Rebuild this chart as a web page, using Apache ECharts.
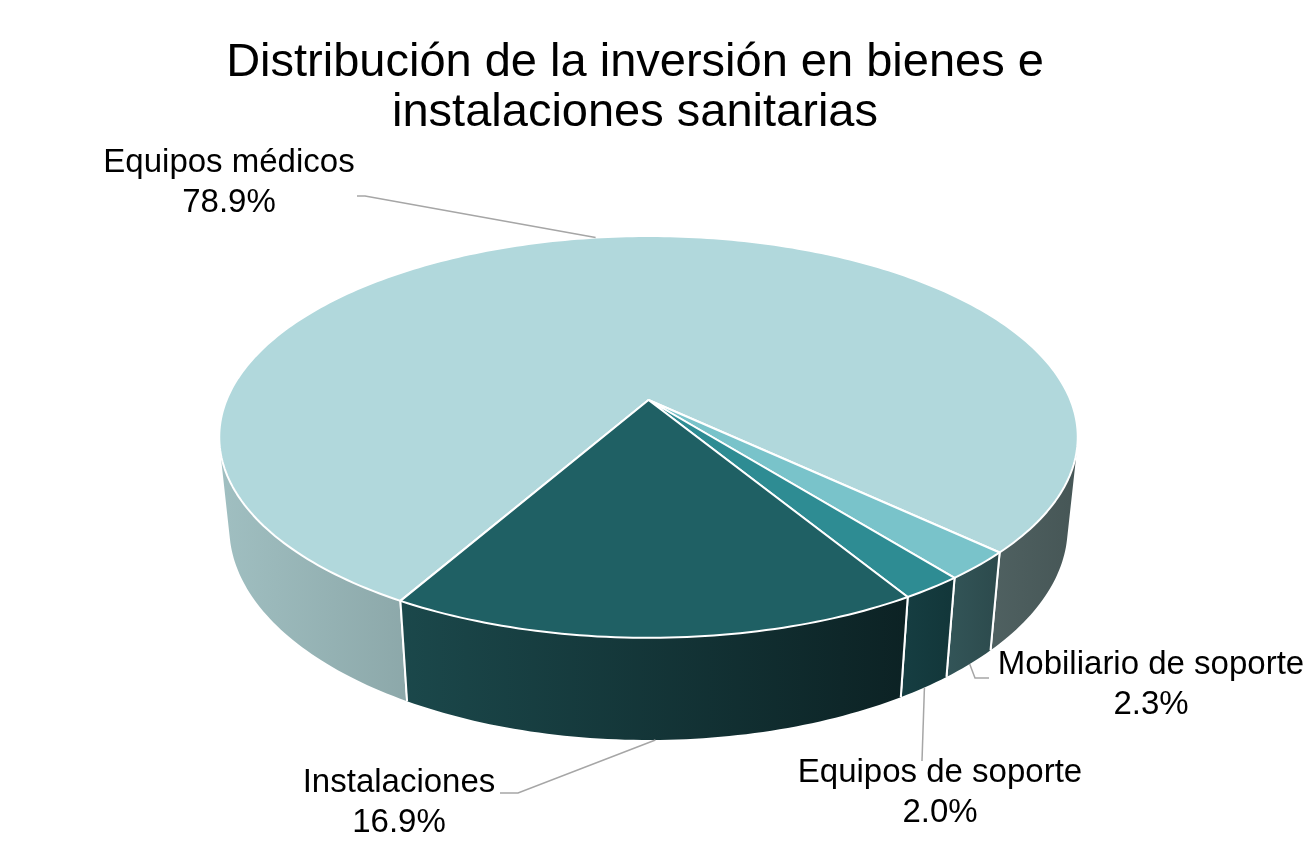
<!DOCTYPE html>
<html>
<head>
<meta charset="utf-8">
<script src="https://cdn.jsdelivr.net/npm/echarts@6/dist/echarts.min.js"></script>
<style>
  html, body { margin: 0; padding: 0; background: #fff; }
  #main { width: 1314px; height: 848px; }
</style>
</head>
<body>
<div id="main"></div>
<script>
// data
const categories = ['Equipos médicos', 'Mobiliario de soporte', 'Equipos de soporte', 'Instalaciones'];
const values = [78.9, 2.3, 2.0, 16.9];

// styles
const topColors = ['#b1d8dc', '#79c3ca', '#2e8c93', '#1f6064'];
const wallColors = [['#a0bfc1', '#465656'], ['#335558', '#2c4a4c'], ['#163e42', '#123639'], ['#1b484b', '#0c2224']];
const labelFont = 'Liberation Sans, Arial, sans-serif';
// label centre and leader elbow points (label layout)
const labelLayout = [
  {x: 229, y: 183, anchor: 'top', path: [[365, 196], [357, 196]]},
  {x: 1151, y: 685, anchor: 'bottom', path: [[975, 678], [989, 678]]},
  {x: 940, y: 793, anchor: 'bottom', path: [[922, 761]]},
  {x: 399, y: 803, anchor: 'bottom', path: [[518, 793], [500, 793]]}
];

// simple perspective camera for the 3D pie
const cx = 648.5, cy = 400, F = 2038, D = 4.83, sinP = 0.46, cosP = 0.888, H = 0.2436;
const startAngle = 119.6;
const visMin = 13.5, visMax = 166.5;

function proj(deg, z) {
  const t = deg * Math.PI / 180;
  const X = Math.cos(t), Y = Math.sin(t);
  const depth = D - Y * cosP - z * sinP;
  return [cx + F * X / depth, cy + F * (Y * sinP - z * cosP) / depth];
}

const total = values.reduce((a, b) => a + b, 0);
const slices = [];
let acc = startAngle;
values.forEach((v) => {
  const span = v / total * 360;
  slices.push([acc, acc + span]);
  acc += span;
});

function arc(a0, a1, z) {
  const pts = [];
  const n = Math.max(2, Math.ceil(Math.abs(a1 - a0) / 1));
  for (let i = 0; i <= n; i++) {
    pts.push(proj(a0 + (a1 - a0) * i / n, z));
  }
  return pts;
}

function visibleParts(a0, a1) {
  const parts = [];
  for (let k = -1; k <= 2; k++) {
    const lo = Math.max(a0, visMin + 360 * k);
    const hi = Math.min(a1, visMax + 360 * k);
    if (hi > lo) parts.push([lo, hi]);
  }
  return parts;
}

function inVisible(a) {
  const m = ((a % 360) + 360) % 360;
  return m > visMin && m < visMax;
}

function renderItem(params, api) {
  const i = params.dataIndex;
  const [a0, a1] = slices[i];
  const children = [];

  // outer wall
  visibleParts(a0, a1).forEach(([lo, hi]) => {
    const topPts = arc(lo, hi, 0);
    const botPts = arc(lo, hi, -H).reverse();
    const pts = topPts.concat(botPts);
    let fill;
    if (i === 0) {
      fill = {type: 'linear', x: 219, y: 0, x2: 1078, y2: 0, global: true,
        colorStops: [{offset: 0, color: wallColors[i][0]}, {offset: 1, color: wallColors[i][1]}]};
    } else {
      fill = {type: 'linear', x: 0, y: 0, x2: 1, y2: 0,
        colorStops: [{offset: 0, color: wallColors[i][0]}, {offset: 1, color: wallColors[i][1]}]};
    }
    children.push({type: 'polygon', shape: {points: pts}, style: {fill: fill, stroke: null}});
  });

  // top face
  const top = [[cx, cy]].concat(arc(a0, a1, 0));
  children.push({type: 'polygon', shape: {points: top},
    style: {fill: topColors[i], stroke: '#ffffff', lineWidth: 2, lineJoin: 'round'}});

  // white edges on the wall at slice boundaries
  [a0, a1].forEach((a) => {
    if (inVisible(a)) {
      const p = proj(a, 0), q = proj(a, -H);
      children.push({type: 'line', shape: {x1: p[0], y1: p[1], x2: q[0], y2: q[1]},
        style: {stroke: '#ffffff', lineWidth: 2}});
    }
  });

  // leader line + label
  const lay = labelLayout[i];
  const mid = (a0 + a1) / 2;
  const start = proj(mid, lay.anchor === 'top' ? 0 : -H);
  children.push({type: 'polyline', shape: {points: [start].concat(lay.path)},
    style: {stroke: '#a6a6a6', lineWidth: 1.5, fill: null}});
  children.push({type: 'text', x: lay.x, y: lay.y,
    style: {text: categories[i] + '\n' + api.value(0).toFixed(1) + '%',
      fill: '#000', fontSize: 33, fontFamily: labelFont, lineHeight: 40,
      align: 'center', verticalAlign: 'middle'}});

  return {type: 'group', children: children};
}

const chart = echarts.init(document.getElementById('main'), null, {renderer: 'canvas'});
chart.setOption({
  backgroundColor: '#ffffff',
  animation: false,
  graphic: [{
    type: 'text', x: 635, y: 88,
    style: {text: 'Distribución de la inversión en bienes e\ninstalaciones sanitarias',
      fill: '#000', fontSize: 47, fontFamily: labelFont, lineHeight: 50,
      align: 'center', verticalAlign: 'middle'}
  }],
  series: [{
    type: 'custom',
    coordinateSystem: 'none',
    renderItem: renderItem,
    data: values.map((v, i) => ({name: categories[i], value: [v]}))
  }]
});
</script>
</body>
</html>
